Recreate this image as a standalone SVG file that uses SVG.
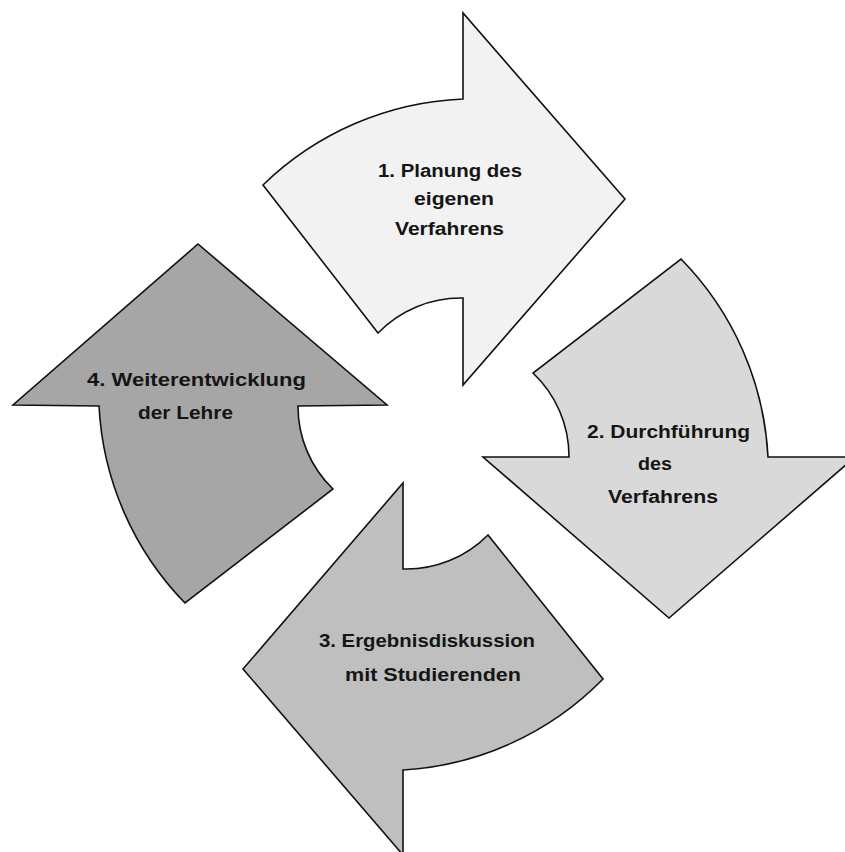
<svg xmlns="http://www.w3.org/2000/svg" width="845" height="852" viewBox="0 0 845 852">
<style>
.arrow{stroke:#111;stroke-width:1.6;stroke-linejoin:miter}
.lbl{font-family:"Liberation Sans",Arial,sans-serif;font-weight:bold;font-size:18px;fill:#151515}
</style>
<rect width="845" height="852" fill="#fff"/>
<g id="step1">
<path class="arrow" fill="#f2f2f2" d="M263,185 A305,305 0 0 1 463,99 L463,13 L625,199 L463,385 L463,298 A115,115 0 0 0 378,333 Z"/>
<text class="lbl" x="378" y="177" textLength="144" lengthAdjust="spacingAndGlyphs">1. Planung des</text>
<text class="lbl" x="414" y="205" textLength="80" lengthAdjust="spacingAndGlyphs">eigenen</text>
<text class="lbl" x="395" y="235" textLength="109" lengthAdjust="spacingAndGlyphs">Verfahrens</text>
</g>
<g id="step2">
<path class="arrow" fill="#d9d9d9" d="M681,259 A305,305 0 0 1 768,457 L855,457 L669,618 L483,457 L569,457 A115,115 0 0 0 533,373 Z"/>
<text class="lbl" x="587" y="438" textLength="163" lengthAdjust="spacingAndGlyphs">2. Durchführung</text>
<text class="lbl" x="638" y="470" textLength="34" lengthAdjust="spacingAndGlyphs">des</text>
<text class="lbl" x="608" y="503" textLength="110" lengthAdjust="spacingAndGlyphs">Verfahrens</text>
</g>
<g id="step3">
<path class="arrow" fill="#bfbfbf" d="M603,679 A305,305 0 0 1 403,770 L403,855 L243,669 L403,483 L403,569 A115,115 0 0 0 488,535 Z"/>
<text class="lbl" x="319" y="647" textLength="216" lengthAdjust="spacingAndGlyphs">3. Ergebnisdiskussion</text>
<text class="lbl" x="345" y="681" textLength="176" lengthAdjust="spacingAndGlyphs">mit Studierenden</text>
</g>
<g id="step4">
<path class="arrow" fill="#a6a6a6" d="M185,603 A305,305 0 0 1 99,406 L13,405 L198,244 L387,405 L298,406 A115,115 0 0 0 333,489 Z"/>
<text class="lbl" x="87" y="386" textLength="219" lengthAdjust="spacingAndGlyphs">4. Weiterentwicklung</text>
<text class="lbl" x="138" y="419" textLength="95" lengthAdjust="spacingAndGlyphs">der Lehre</text>
</g>
</svg>
